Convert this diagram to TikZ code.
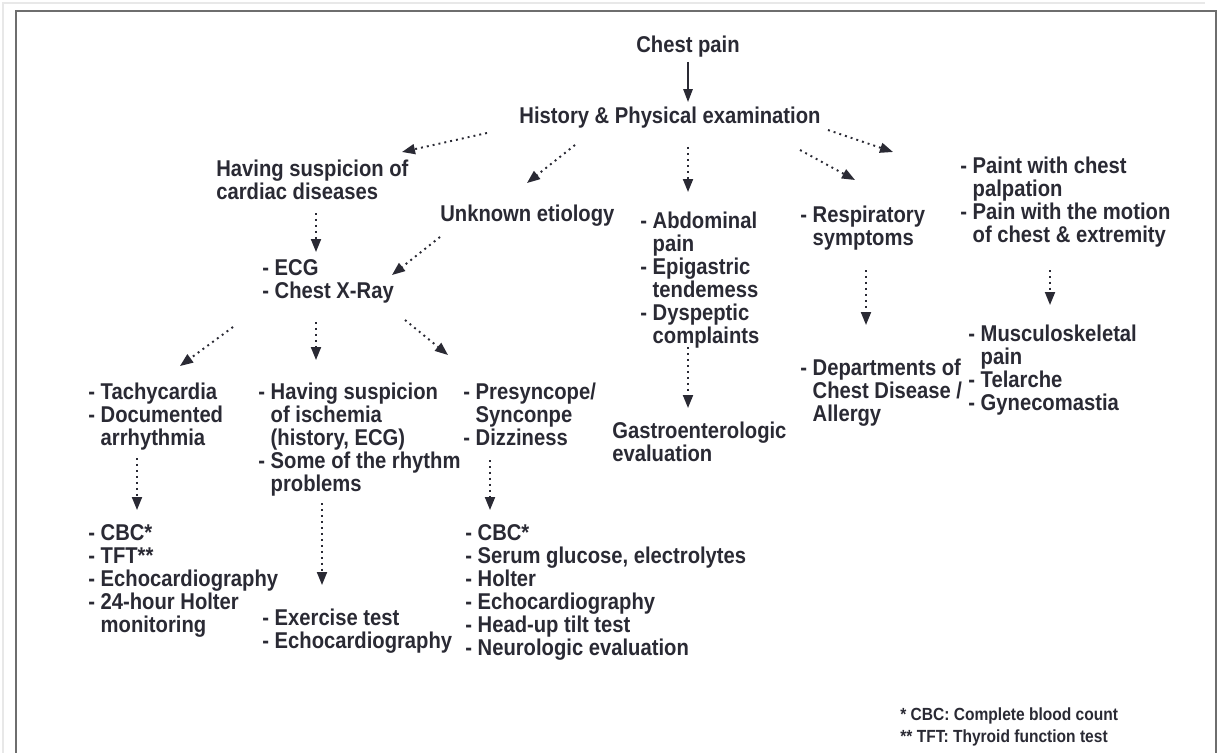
\documentclass[tikz,border=0pt]{standalone}
\usepackage{fontspec}
\setmainfont[FakeStretch=0.885]{Liberation Sans}
\usetikzlibrary{arrows.meta,calc}
\definecolor{txt}{RGB}{42,42,52}
\definecolor{frame}{RGB}{110,110,110}
\newcommand{\ind}{\hphantom{- }}
\tikzset{
  lbl/.style={anchor=north west,inner sep=0pt,align=left,text=txt,
    font=\fontsize{13}{13.1}\selectfont\bfseries},
  dotarr/.style={line width=1.1pt,dash pattern=on 1.1pt off 2.3pt,draw=txt,
    -{Triangle[length=2.6mm,width=2mm]}},
  solidarr/.style={line width=0.8pt,draw=txt,-{Triangle[length=2.6mm,width=1.9mm]}}
}
\begin{document}
\begin{tikzpicture}[x=0.02cm,y=-0.02cm]
\useasboundingbox (0,0) rectangle (1219,753);
\fill[white] (0,0) rectangle (1219,753);
\draw[gray!18,line width=1pt] (3,760) -- (3,3) -- (1205,3);
\draw[frame,line width=1.6pt] (16,760) -- (16,11) -- (1216,11) -- (1216,760);

\node[lbl,anchor=center] (chest) at (688,47) {Chest pain};
\node[lbl,anchor=center] (hist) at (670,118) {History \& Physical examination};
\node[lbl] (card) at (216,160) {Having suspicion of\\cardiac diseases};
\node[lbl] (unk) at (440,205) {Unknown etiology};
\node[lbl] (abd) at (640,212) {- Abdominal\\\ind pain\\- Epigastric\\\ind tendemess\\- Dyspeptic\\\ind complaints};
\node[lbl] (resp) at (800,206) {- Respiratory\\\ind symptoms};
\node[lbl] (wall) at (960,157) {- Paint with chest\\\ind palpation\\- Pain with the motion\\\ind of chest \& extremity};
\node[lbl] (ecg) at (262,259) {- ECG\\- Chest X-Ray};
\node[lbl] (gastro) at (612,422) {Gastroenterologic\\evaluation};
\node[lbl] (dept) at (800,359) {- Departments of\\\ind Chest Disease /\\\ind Allergy};
\node[lbl] (musc) at (968,325) {- Musculoskeletal\\\ind pain\\- Telarche\\- Gynecomastia};
\node[lbl] (tachy) at (88,383) {- Tachycardia\\- Documented\\\ind arrhythmia};
\node[lbl] (isch) at (258,383) {- Having suspicion\\\ind of ischemia\\\ind (history, ECG)\\- Some of the rhythm\\\ind problems};
\node[lbl] (presync) at (463,383) {- Presyncope/\\\ind Synconpe\\- Dizziness};
\node[lbl] (cbcone) at (88,524) {- CBC*\\- TFT**\\- Echocardiography\\- 24-hour Holter\\\ind monitoring};
\node[lbl] (exer) at (262,609) {- Exercise test\\- Echocardiography};
\node[lbl] (cbctwo) at (465,524) {- CBC*\\- Serum glucose, electrolytes\\- Holter\\- Echocardiography\\- Head-up tilt test\\- Neurologic evaluation};
\node[lbl,font=\fontsize{10}{13}\selectfont\bfseries] (foot) at (900,707) {* CBC: Complete blood count\\** TFT: Thyroid function test};

\draw[solidarr] ($(chest.center)+(0,15)$) -- ($(hist.center)+(18,-16)$);
\draw[dotarr] ($(hist.center)+(-183,15)$) -- ($(card.north west)+(186,-8)$);
\draw[dotarr] ($(hist.center)+(-95,27)$) -- ($(unk.north west)+(87,-22)$);
\draw[dotarr] ($(hist.center)+(18,29)$) -- ($(abd.north west)+(48,-20)$);
\draw[dotarr] ($(hist.center)+(130,32)$) -- ($(resp.north west)+(55,-26)$);
\draw[dotarr] ($(hist.center)+(158,12)$) -- ($(wall.north west)+(-67,-5)$);
\draw[dotarr] ($(card.north west)+(100,53)$) -- ($(ecg.north west)+(54,-7)$);
\draw[dotarr] ($(unk.north west)+(0,32)$) -- ($(ecg.north west)+(130,16)$);
\draw[dotarr] ($(abd.north west)+(48,135)$) -- ($(gastro.north west)+(76,-14)$);
\draw[dotarr] ($(resp.north west)+(66,64)$) -- ($(dept.north west)+(66,-34)$);
\draw[dotarr] ($(wall.north west)+(90,113)$) -- ($(musc.north west)+(82,-20)$);
\draw[dotarr] ($(ecg.north west)+(-29,68)$) -- ($(tachy.north west)+(92,-17)$);
\draw[dotarr] ($(ecg.north west)+(54,63)$) -- ($(isch.north west)+(58,-23)$);
\draw[dotarr] ($(ecg.north west)+(143,61)$) -- ($(presync.north west)+(-15,-28)$);
\draw[dotarr] ($(tachy.north west)+(49,75)$) -- ($(cbcone.north west)+(49,-14)$);
\draw[dotarr] ($(isch.north west)+(64,120)$) -- ($(exer.north west)+(60,-24)$);
\draw[dotarr] ($(presync.north west)+(27,77)$) -- ($(cbctwo.north west)+(25,-14)$);
\end{tikzpicture}
\end{document}
